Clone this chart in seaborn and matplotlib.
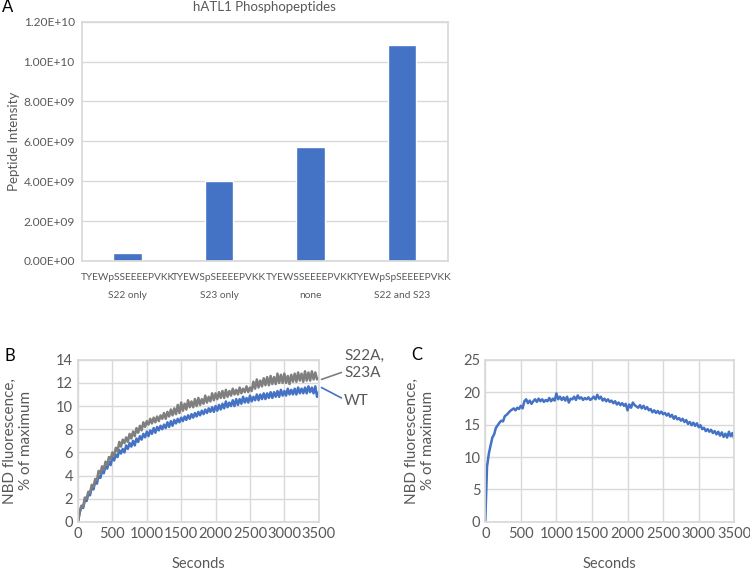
import numpy as np
import pandas as pd
import seaborn as sns
import matplotlib.pyplot as plt

# panel A - phosphopeptide intensities
peptides = ['TYEWpSSEEEEPVKK\nS22 only', 'TYEWSpSEEEEPVKK\nS23 only',
            'TYEWSSEEEEPVKK\nnone', 'TYEWpSpSEEEEPVKK\nS22 and S23']
intensity = [4.0e8, 4.02e9, 5.72e9, 1.083e10]

# panel B / C - NBD fluorescence, sampled every 25 s
seconds = np.arange(0, 3501, 25)

s22a_s23a = [0.0, 0.9, 1.4, 1.3, 2.1, 2.0, 2.6, 2.5, 3.2, 3.0,
             3.7, 3.6, 4.4, 4.2, 4.8, 4.5, 5.2, 4.9, 5.6, 5.4,
             6.0, 5.7, 6.4, 6.1, 6.9, 6.5, 7.1, 6.8, 7.3, 6.9,
             7.6, 7.2, 7.8, 7.4, 8.1, 7.7, 8.3, 7.9, 8.6, 8.2,
             8.7, 8.4, 8.9, 8.5, 9.0, 8.6, 9.1, 8.7, 9.2, 8.9,
             9.4, 8.9, 9.5, 9.1, 9.7, 9.2, 9.8, 9.3, 10.1, 9.4,
             10.3, 9.6, 10.2, 9.7, 10.5, 9.9, 10.4, 9.9, 10.6, 10.0,
             10.7, 10.1, 10.6, 10.2, 10.9, 10.3, 10.8, 10.4, 11.1, 10.5,
             11.1, 10.6, 11.2, 10.7, 11.3, 10.7, 11.4, 10.8, 11.3, 10.9,
             11.5, 11.0, 11.4, 11.0, 11.6, 11.1, 11.5, 11.2, 11.7, 11.2,
             11.6, 11.3, 12.1, 11.5, 12.3, 11.6, 12.2, 11.7, 12.4, 11.8,
             12.5, 11.8, 12.6, 11.9, 12.5, 11.9, 12.8, 12.0, 12.7, 12.0,
             12.8, 12.0, 12.6, 11.9, 12.7, 12.1, 12.8, 12.1, 12.9, 12.2,
             12.8, 12.1, 13.0, 12.2, 12.9, 12.2, 13.0, 12.3, 12.9, 12.3,
             12.4]

wt = [0.0, 0.8, 1.3, 1.2, 1.9, 1.8, 2.4, 2.3, 3.0, 2.8,
      3.5, 3.3, 4.0, 3.8, 4.4, 4.2, 4.8, 4.6, 5.2, 4.9,
      5.6, 5.3, 5.8, 5.6, 6.2, 5.9, 6.3, 6.0, 6.6, 6.3,
      6.8, 6.5, 7.0, 6.6, 7.2, 6.9, 7.4, 7.1, 7.6, 7.3,
      7.8, 7.4, 7.9, 7.6, 8.1, 7.7, 8.2, 7.9, 8.3, 8.0,
      8.4, 8.1, 8.6, 8.2, 8.7, 8.3, 8.8, 8.5, 8.9, 8.6,
      9.0, 8.7, 9.1, 8.8, 9.2, 8.9, 9.3, 9.0, 9.4, 9.1,
      9.5, 9.2, 9.6, 9.3, 9.7, 9.4, 9.8, 9.5, 9.9, 9.5,
      10.0, 9.6, 10.1, 9.7, 10.2, 9.8, 10.4, 9.9, 10.3, 10.0,
      10.5, 10.0, 10.6, 10.1, 10.6, 10.2, 10.8, 10.3, 10.7, 10.3,
      10.9, 10.4, 10.8, 10.5, 11.0, 10.5, 11.0, 10.6, 11.1, 10.6,
      11.1, 10.7, 11.2, 10.7, 11.2, 10.8, 11.3, 10.8, 11.4, 10.9,
      11.3, 10.9, 11.5, 11.0, 11.4, 11.0, 11.5, 11.0, 11.6, 11.1,
      11.5, 11.1, 11.6, 11.1, 11.7, 11.2, 11.6, 11.1, 11.7, 10.8,
      11.2]

panel_c = [0.0, 8.5, 10.5, 11.8, 13.0, 13.5, 14.5, 14.9, 15.3, 15.6,
           15.5, 16.3, 16.5, 16.8, 17.1, 17.3, 17.5, 17.2, 17.6, 17.4,
           17.9, 17.5, 18.6, 18.9, 18.3, 18.7, 18.2, 18.6, 18.9, 18.5,
           19.0, 18.6, 18.9, 18.5, 18.8, 18.6, 19.1, 18.6, 19.0, 18.7,
           19.8, 18.9, 19.3, 18.8, 19.2, 18.7, 19.3, 18.4, 19.0, 18.9,
           19.3, 18.8, 19.5, 19.0, 19.2, 18.8, 19.1, 18.9, 19.2, 18.8,
           19.0, 19.3, 18.9, 19.6, 19.0, 19.3, 18.7, 19.0, 18.6, 18.9,
           18.5, 18.7, 18.3, 18.6, 18.1, 18.4, 18.0, 18.3, 17.9, 18.2,
           17.2, 18.1, 17.6, 18.4, 18.0, 17.8, 17.6, 18.0, 17.5, 17.9,
           17.4, 17.7, 17.2, 17.4, 16.9, 17.2, 16.8, 17.1, 16.7, 17.0,
           16.6, 16.8, 16.4, 16.7, 16.2, 16.5, 15.9, 16.3, 15.8, 16.0,
           15.6, 15.9, 15.4, 15.7, 15.1, 15.4, 14.9, 15.3, 14.8, 15.2,
           14.6, 14.9, 14.3, 14.5, 14.0, 14.3, 13.9, 14.2, 13.7, 14.0,
           13.5, 13.9, 13.3, 13.8, 13.1, 13.6, 13.0, 13.9, 13.2, 13.7,
           12.8]

blue = '#4472C4'
grey = '#7F7F7F'
txt = '#595959'
gridc = '#D9D9D9'

sns.set_theme(style='whitegrid')
plt.rcParams['font.family'] = ['Lato', 'DejaVu Sans']
plt.rcParams['grid.color'] = gridc
plt.rcParams['text.color'] = txt
plt.rcParams['axes.labelcolor'] = txt
plt.rcParams['xtick.color'] = txt
plt.rcParams['ytick.color'] = txt

fig = plt.figure(figsize=(7.5, 5.71), dpi=100)

# ---- A ----
axA = fig.add_axes([0.109, 0.543, 0.488, 0.419])
dfA = pd.DataFrame({'peptide': peptides, 'intensity': intensity})
sns.barplot(data=dfA, x='peptide', y='intensity', color=blue, width=0.31,
            saturation=1, ax=axA)
axA.set_ylim(0, 1.2e10)
axA.set_yticks(np.arange(0, 1.21e10, 2e9))
axA.set_yticklabels(['%.2E' % v for v in np.arange(0, 1.21e10, 2e9)])
axA.set_xlabel('')
axA.set_ylabel('Peptide Intensity', fontsize=9.5)
axA.yaxis.set_label_coords(-0.17, 0.5)
axA.text(0.5, 1.063, 'hATL1 Phosphopeptides', transform=axA.transAxes,
         fontsize=9.5, color=txt, ha='center', va='center')
axA.tick_params(axis='x', labelsize=7.3, pad=9, length=0)
axA.tick_params(axis='y', labelsize=8.6, length=0, pad=5)
for lbl in axA.get_xticklabels():
    lbl.set_linespacing(2.2)
axA.grid(axis='x', visible=False)
for sp in axA.spines.values():
    sp.set_color(gridc)

# ---- B ----
axB = fig.add_axes([0.104, 0.086, 0.321, 0.284])
dfB = pd.DataFrame({'Seconds': np.concatenate([seconds, seconds]),
                    'value': s22a_s23a + wt,
                    'strain': ['S22A, S23A'] * len(seconds) + ['WT'] * len(seconds)})
sns.lineplot(data=dfB, x='Seconds', y='value', hue='strain',
             palette={'S22A, S23A': grey, 'WT': blue}, linewidth=1.8,
             legend=False, ax=axB, hue_order=['WT', 'S22A, S23A'])
axB.set_xlim(0, 3500)
axB.set_ylim(0, 14)
axB.set_xticks(range(0, 3501, 500))
axB.set_yticks(range(0, 15, 2))
axB.set_ylabel('NBD fluorescence,\n% of maximum', fontsize=11)
axB.yaxis.set_label_coords(-0.185, 0.5)
axB.set_xlabel('Seconds', fontsize=10.5)
axB.xaxis.set_label_coords(0.5, -0.215)
axB.tick_params(labelsize=10.5, length=0)
axB.plot([3540, 3830], [12.3, 12.9], color=grey, lw=1.2, clip_on=False)
axB.plot([3540, 3830], [11.6, 10.7], color=blue, lw=1.2, clip_on=False)
axB.text(3870, 13.6, 'S22A,\nS23A', fontsize=11, color=txt, va='center',
         ha='left', linespacing=1.3)
axB.text(3870, 10.4, 'WT', fontsize=11, color=txt, va='center', ha='left')
for sp in axB.spines.values():
    sp.set_color(gridc)

# ---- C ----
axC = fig.add_axes([0.647, 0.086, 0.332, 0.284])
dfC = pd.DataFrame({'Seconds': seconds, 'value': panel_c})
sns.lineplot(data=dfC, x='Seconds', y='value', color=blue, linewidth=1.8, ax=axC)
axC.set_xlim(0, 3500)
axC.set_ylim(0, 25)
axC.set_xticks(range(0, 3501, 500))
axC.set_yticks(range(0, 26, 5))
axC.set_ylabel('NBD fluorescence,\n% of maximum', fontsize=11)
axC.yaxis.set_label_coords(-0.2, 0.5)
axC.set_xlabel('Seconds', fontsize=10.5)
axC.xaxis.set_label_coords(0.5, -0.215)
axC.tick_params(labelsize=10.5, length=0)
for sp in axC.spines.values():
    sp.set_color(gridc)

fig.text(0.003, 0.988, 'A', fontsize=12, color='black', va='center')
fig.text(0.006, 0.377, 'B', fontsize=12, color='black', va='center')
fig.text(0.548, 0.378, 'C', fontsize=12, color='black', va='center')

fig.savefig('out.png', dpi=100)
